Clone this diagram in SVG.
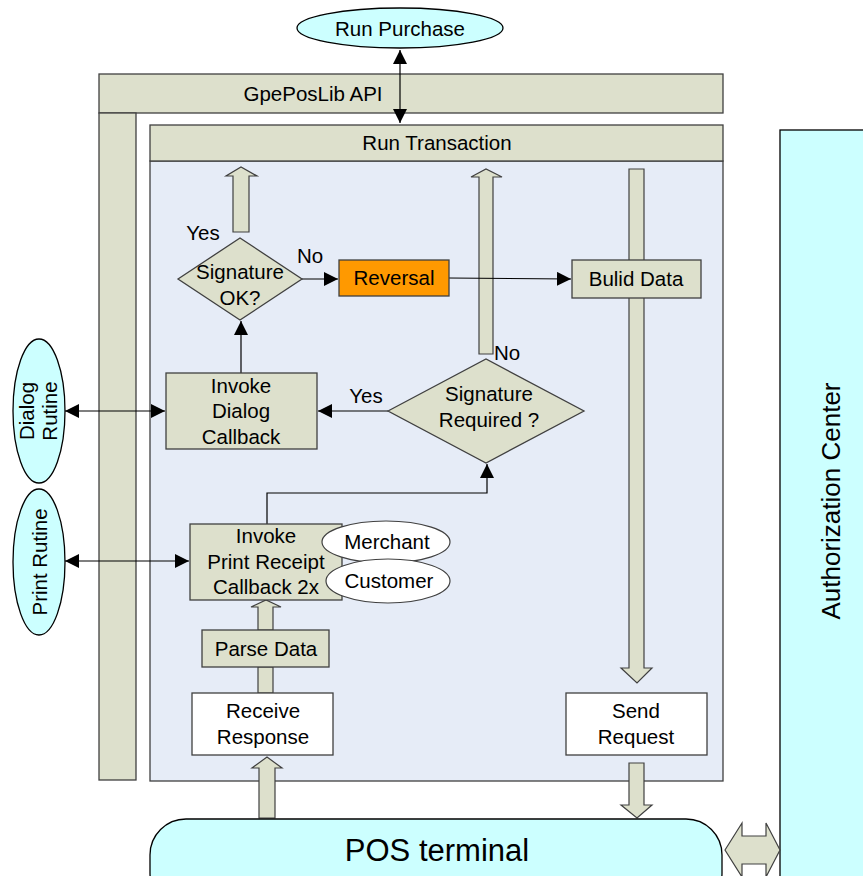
<svg xmlns="http://www.w3.org/2000/svg" width="863" height="876" viewBox="0 0 863 876">
<defs>
<style>
text{font-family:"Liberation Sans",Arial,sans-serif;font-size:20.5px;fill:#000;text-anchor:middle}
.kh{fill:#DDE0CC;stroke:#404040;stroke-width:1.3}
.cy{fill:#CCFFFF;stroke:#000;stroke-width:1.3}
.wh{fill:#fff;stroke:#404040;stroke-width:1.3}
.ln{fill:none;stroke:#000;stroke-width:1.2}
.blk{fill:#DDE0CC;stroke:#404040;stroke-width:1.2}
</style>
<marker id="ahb" viewBox="0 0 14 14" refX="14" refY="7" markerWidth="14" markerHeight="14" markerUnits="userSpaceOnUse" orient="auto-start-reverse"><path d="M0,0 L14,7 L0,14 z" fill="#000"/></marker>
</defs>
<rect width="863" height="876" fill="#fff"/>

<g id="auth-center">
<rect class="cy" x="780" y="130" width="90" height="760"/>
<text transform="translate(840,501) rotate(-90)" style="font-size:26px">Authorization Center</text>
</g>

<g id="api">
<rect class="kh" x="99" y="74" width="624" height="39"/>
<rect class="kh" x="99" y="113" width="37" height="667"/>
<text x="313" y="101">GpePosLib API</text>
</g>

<g id="panel">
<rect x="150" y="161" width="573" height="620" fill="#E6ECF7" stroke="#404040" stroke-width="1.3"/>
</g>

<g id="run-transaction">
<rect class="kh" x="150" y="125" width="573" height="36"/>
<text x="437" y="150">Run Transaction</text>
</g>

<g id="run-purchase">
<ellipse class="cy" cx="400" cy="28" rx="103" ry="20"/>
<text x="400" y="36">Run Purchase</text>
</g>

<g id="block-arrows">
<path class="blk" d="M233,232 V176 H226 L241,167 L257,176 H249 V232 Z"/>
<path class="blk" d="M479,354 V177 H471 L486,169 L502,177 H493 V354 Z"/>
<path class="blk" d="M629,169 H644 V668 H652 L637,683 L621,668 H629 Z"/>
<path class="blk" d="M629,763 H644 V805 H652 L637,818 L621,805 H629 Z"/>
<path class="blk" d="M259,818 V768 H252 L267,757 L282,768 H275 V818 Z"/>
<path class="blk" d="M258,693 V667 H273 V693 Z"/>
<path class="blk" d="M258,630 V607 H251 L266,600 L281,607 H273 V630 Z"/>
<path class="blk" d="M725,850 L742,823 V836 H766 V823 L780,850 L766,877 V864 H742 V877 Z"/>
</g>

<g id="connectors">
<line class="ln" x1="400" y1="50" x2="400" y2="123" marker-start="url(#ahb)" marker-end="url(#ahb)"/>
<line class="ln" x1="241" y1="373" x2="241" y2="321" marker-end="url(#ahb)"/>
<line class="ln" x1="302" y1="279" x2="338" y2="279" marker-end="url(#ahb)"/>
<line class="ln" x1="449" y1="278" x2="571" y2="279" marker-end="url(#ahb)"/>
<line class="ln" x1="388" y1="411" x2="318" y2="411" marker-end="url(#ahb)"/>
<polyline class="ln" points="267,524 267,493 487,493 487,464" marker-end="url(#ahb)"/>
<line class="ln" x1="65" y1="411" x2="165" y2="411" stroke-width="1.8" marker-start="url(#ahb)" marker-end="url(#ahb)"/>
<line class="ln" x1="65" y1="561" x2="189" y2="561" stroke-width="1.8" marker-start="url(#ahb)" marker-end="url(#ahb)"/>
</g>

<g id="labels">
<text x="203" y="240">Yes</text>
<text x="310" y="263">No</text>
<text x="366" y="403">Yes</text>
<text x="507" y="360">No</text>
</g>

<g id="signature-ok">
<polygon class="kh" points="178,279 240,238 302,279 240,320"/>
<text x="240" y="279">Signature</text>
<text x="240" y="305">OK?</text>
</g>

<g id="reversal">
<rect x="339" y="260" width="110" height="36" fill="#FF9900" stroke="#404040" stroke-width="1.3"/>
<text x="394" y="285">Reversal</text>
</g>

<g id="build-data">
<rect class="kh" x="572" y="260" width="129" height="38"/>
<text x="636" y="286">Bulid Data</text>
</g>

<g id="signature-required">
<polygon class="kh" points="388,411 486,359 584,411 486,463"/>
<text x="489" y="401">Signature</text>
<text x="489" y="427">Required ?</text>
</g>

<g id="dialog-callback">
<rect class="kh" x="166" y="373" width="151" height="76"/>
<text x="241" y="393">Invoke</text>
<text x="241" y="418">Dialog</text>
<text x="241" y="444">Callback</text>
</g>

<g id="dialog-rutine">
<ellipse class="cy" cx="39" cy="411" rx="26" ry="72"/>
<text transform="translate(34,411) rotate(-90)">Dialog</text>
<text transform="translate(57,411) rotate(-90)">Rutine</text>
</g>

<g id="print-rutine">
<ellipse class="cy" cx="39" cy="562" rx="26" ry="73"/>
<text transform="translate(47,562) rotate(-90)">Print Rutine</text>
</g>

<g id="print-receipt">
<rect class="kh" x="190" y="524" width="152" height="76"/>
<text x="266" y="543">Invoke</text>
<text x="266" y="569">Print Receipt</text>
<text x="266" y="594">Callback 2x</text>
</g>

<g id="merchant">
<ellipse cx="386" cy="542" rx="64" ry="21" fill="#fff" stroke="#404040" stroke-width="1.2"/>
<text x="387" y="549">Merchant</text>
</g>

<g id="customer">
<ellipse cx="388" cy="581" rx="62" ry="22" fill="#fff" stroke="#404040" stroke-width="1.2"/>
<text x="389" y="588">Customer</text>
</g>

<g id="parse-data">
<rect class="kh" x="202" y="630" width="127" height="37"/>
<text x="266" y="656">Parse Data</text>
</g>

<g id="receive-response">
<rect class="wh" x="192" y="693" width="141" height="62"/>
<text x="263" y="718">Receive</text>
<text x="263" y="744">Response</text>
</g>

<g id="send-request">
<rect class="wh" x="566" y="693" width="141" height="62"/>
<text x="636" y="718">Send</text>
<text x="636" y="744">Request</text>
</g>

<g id="pos-terminal">
<rect class="cy" x="150" y="819" width="572" height="90" rx="36" ry="36"/>
<text x="437" y="861" style="font-size:31px">POS terminal</text>
</g>
</svg>
